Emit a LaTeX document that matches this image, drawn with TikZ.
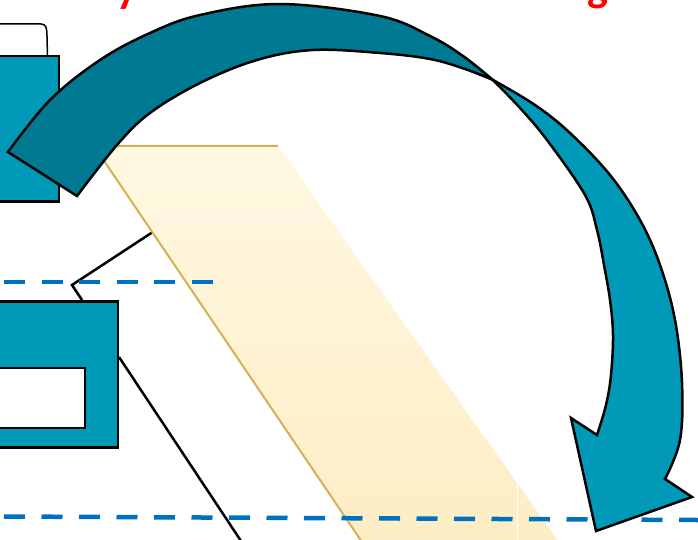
\documentclass[tikz,border=0pt]{standalone}
\usepackage{fontspec}
\usepackage{xcolor}
\usepackage{tikz}
\usetikzlibrary{positioning}
\newfontfamily\slidefont{Carlito}
\definecolor{SlideTeal}{RGB}{0,153,183}
\definecolor{SlideTealDark}{RGB}{0,122,146}
\definecolor{SlideBlue}{RGB}{0,112,192}
\definecolor{SlideGold}{RGB}{214,175,88}
\definecolor{SlideCreamTop}{RGB}{255,248,226}
\definecolor{SlideCreamBot}{RGB}{253,237,196}
\definecolor{SlideRed}{RGB}{255,0,0}

\begin{document}
\begin{tikzpicture}[x=1pt,y=-1pt,
  tealbox/.style={rectangle, draw=black, fill=SlideTeal, line width=2.5pt, inner sep=0pt},
  slotbox/.style={rectangle, draw=black, fill=white, line width=2pt, inner sep=0pt},
  guide/.style={SlideBlue, line width=4.5pt, dash pattern=on 21pt off 16.5pt},
  linkline/.style={black, line width=2.5pt},
  bendarrow/.style={draw=black, line width=2.5pt, line join=miter},
  titlebit/.style={text=SlideRed, font=\slidefont\bfseries\fontsize{44}{48}\selectfont, inner sep=0pt}]
  \path[use as bounding box] (0,0) rectangle (698,540);
  \clip (0,0) rectangle (698,540);
  \fill[white] (0,0) rectangle (698,540);

  % heading, only its descenders fall inside the frame
  \node[titlebit, anchor=south] (heady) at (127,9.5) {y};
  \node[titlebit, anchor=south] (headg) at (598,9.5) {g};

  % boxes on the left
  \node[tealbox, minimum width=100pt, minimum height=145pt, anchor=north east] (topbox) at (60,55) {};
  \node[tealbox, minimum width=160pt, minimum height=146pt, anchor=north east] (lowbox) at (119,300) {};
  \node[slotbox, minimum width=120pt, minimum height=60pt, anchor=north east] (lowslot) at (86,367) {};
  \draw[black, line width=1.5pt] (-5,24) -- (41,24) .. controls (46,24) and (47,28) .. (47,36) -- (47.5,57);

  % links
  \coordinate (linktop) at (165,224);
  \coordinate (linkbend) at (72,285);
  \coordinate (linkfoot) at (82,300);
  \coordinate (lowarm) at (119,357);
  \coordinate (lowend) at (245,547);
  \draw[linkline, line join=miter] (linktop) -- (linkbend) -- (linkfoot);
  \draw[linkline] (lowarm) -- (lowend);

  % cream band
  \shade[top color=SlideCreamTop, bottom color=SlideCreamBot]
    (94,146) -- (278,146) -- (561,545) -- (364,545) -- cycle;
  \draw[white, line width=0.6pt, opacity=0.7] (140,211) -- (325,211);
  \draw[white, line width=1pt] (517,480) -- (517,545);
  \draw[SlideGold, line width=2pt] (364,545) -- (94,146) -- (278,146);

  % dashed guides
  \draw[guide] (4,282) -- (215,282);
  \draw[guide] (4,516.5) -- (698,520);

  % curved arrow, back part then front part
  \filldraw[bendarrow, fill=SlideTealDark]
    plot[smooth, tension=0.6] coordinates {(8,152) (50,100) (100,60) (150,33) (200,15) (280,4) (380,16) (430,36) (463,56) (493,80)}
    -- plot[smooth, tension=0.6] coordinates {(493,80) (465,69) (430,59) (380,53) (313,50) (257,60) (200,83) (150,113) (117,145) (77,196)}
    -- cycle;
  \filldraw[bendarrow, fill=SlideTeal]
    plot[smooth, tension=0.6] coordinates {(493,80) (535,105) (570,133) (610,175) (640,220) (660,265) (675,320) (682,383) (680,440) (665,479)}
    -- (692,497) -- (596,531) -- (571,418)
    -- plot[smooth, tension=0.6] coordinates {(597,435) (606,405) (611,375) (613,335) (610,300) (604,265) (597,230) (585,195) (547,140) (520,108) (493,80)}
    -- cycle;
\end{tikzpicture}
\end{document}
